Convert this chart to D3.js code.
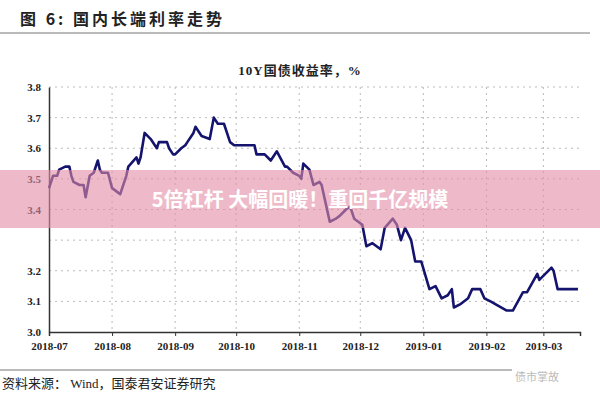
<!DOCTYPE html>
<html><head><meta charset="utf-8">
<script src="https://cdn.jsdelivr.net/npm/d3@7"></script>
<style>body{margin:0;background:#fff}svg{display:block}</style>
</head><body>
<svg id="c" width="600" height="400"></svg>
<script>
const dates = ["2018-07-01","2018-07-03","2018-07-05","2018-07-06","2018-07-09","2018-07-11","2018-07-12","2018-07-13","2018-07-16","2018-07-18","2018-07-19","2018-07-21","2018-07-23","2018-07-25","2018-07-26","2018-07-27","2018-07-30","2018-08-01","2018-08-03","2018-08-05","2018-08-08","2018-08-09","2018-08-13","2018-08-14","2018-08-15","2018-08-17","2018-08-20","2018-08-23","2018-08-24","2018-08-28","2018-08-29","2018-08-31","2018-09-01","2018-09-04","2018-09-06","2018-09-07","2018-09-10","2018-09-11","2018-09-14","2018-09-18","2018-09-20","2018-09-22","2018-09-25","2018-09-28","2018-09-30","2018-10-10","2018-10-11","2018-10-15","2018-10-18","2018-10-21","2018-10-25","2018-10-26","2018-10-29","2018-11-01","2018-11-02","2018-11-03","2018-11-06","2018-11-08","2018-11-11","2018-11-12","2018-11-16","2018-11-19","2018-11-21","2018-11-24","2018-11-26","2018-11-28","2018-12-02","2018-12-04","2018-12-07","2018-12-11","2018-12-13","2018-12-17","2018-12-19","2018-12-21","2018-12-23","2018-12-26","2018-12-28","2018-12-31","2019-01-04","2019-01-07","2019-01-10","2019-01-13","2019-01-15","2019-01-16","2019-01-19","2019-01-23","2019-01-25","2019-01-29","2019-01-31","2019-02-03","2019-02-11","2019-02-14","2019-02-19","2019-02-21","2019-02-26","2019-02-27","2019-03-05","2019-03-06","2019-03-08","2019-03-11","2019-03-14","2019-03-18"];
const yields = [3.47,3.51,3.51,3.53,3.54,3.54,3.51,3.49,3.48,3.48,3.44,3.51,3.52,3.56,3.53,3.52,3.52,3.47,3.46,3.45,3.51,3.54,3.57,3.55,3.57,3.65,3.63,3.60,3.62,3.62,3.60,3.58,3.58,3.60,3.61,3.62,3.65,3.67,3.64,3.63,3.70,3.68,3.68,3.62,3.61,3.61,3.58,3.58,3.56,3.59,3.54,3.54,3.52,3.51,3.50,3.55,3.53,3.48,3.49,3.48,3.36,3.37,3.38,3.40,3.41,3.37,3.35,3.28,3.29,3.27,3.34,3.37,3.35,3.30,3.34,3.30,3.23,3.23,3.14,3.15,3.11,3.12,3.14,3.08,3.09,3.11,3.14,3.14,3.11,3.10,3.07,3.07,3.13,3.13,3.19,3.17,3.21,3.20,3.14,3.14,3.14,3.14];
const monthTicks = ["2018-07","2018-08","2018-09","2018-10","2018-11","2018-12","2019-01","2019-02","2019-03"];
const yTicks = [3.0,3.1,3.2,3.3,3.4,3.5,3.6,3.7,3.8];
const yLabels = ["3.0","3.1","3.2","","3.4","3.5","3.6","3.7","3.8"];
const title = "图 6:  国内长端利率走势";
const subtitle = "10Y国债收益率，%";
const source = "资料来源：  Wind，国泰君安证券研究";
const banner = "5倍杠杆 大幅回暖！重回千亿规模";

const svg = d3.select("#c");
const parse = d3.timeParse("%Y-%m-%d"), pm = d3.timeParse("%Y-%m");
const x = d3.scaleTime().domain([parse("2018-07-01"), parse("2019-03-19")]).range([49,580]);
const y = d3.scaleLinear().domain([3.0,3.8]).range([332,87]);
const serif = "'Liberation Serif','Noto Sans CJK SC',serif";

svg.append("text").attr("x",20).attr("y",25).attr("font-family","'Noto Sans CJK SC'").attr("font-weight","bold").attr("font-size",16).attr("letter-spacing","3px").attr("fill","#222").text(title);
svg.append("line").attr("x1",0).attr("x2",590).attr("y1",33).attr("y2",33).attr("stroke","#777").attr("stroke-width",1);
svg.append("text").attr("x",300).attr("y",75).attr("text-anchor","middle").attr("font-family",serif).attr("font-weight","bold").attr("font-size",13).attr("letter-spacing","1px").attr("fill","#222").text(subtitle);

svg.append("g").selectAll("line").data(yTicks.slice(1)).join("line")
  .attr("x1",49).attr("x2",580).attr("y1",d=>y(d)).attr("y2",d=>y(d))
  .attr("stroke","#bbb").attr("stroke-dasharray","2,4");
svg.append("g").selectAll("line").data(monthTicks.slice(1)).join("line")
  .attr("x1",d=>x(pm(d))).attr("x2",d=>x(pm(d))).attr("y1",87).attr("y2",332)
  .attr("stroke","#bbb").attr("stroke-dasharray","2,4");

const yAx = svg.append("g").attr("transform","translate(49,0)")
  .call(d3.axisLeft(y).tickValues(yTicks).tickFormat((d,i)=>yLabels[i]).tickSize(0).tickPadding(8));
const xAx = svg.append("g").attr("transform","translate(0,332)")
  .call(d3.axisBottom(x).tickValues(monthTicks.map(pm)).tickFormat(d3.timeFormat("%Y-%m")).tickSize(4).tickPadding(6));
[yAx,xAx].forEach(a=>{a.selectAll("text").attr("font-family",serif).attr("font-weight","bold").attr("font-size",11).attr("fill","#222");
  a.select(".domain").attr("stroke","#333").attr("stroke-width",1.5); a.selectAll(".tick line").attr("stroke","#333");});

const data = dates.map((d,i)=>({d:parse(d),v:yields[i]}));
svg.append("path").datum(data).attr("fill","none").attr("stroke","#14146e").attr("stroke-width",2.6)
  .attr("stroke-linejoin","round").attr("d",d3.line().x(d=>x(d.d)).y(d=>y(d.v)));

svg.append("line").attr("x1",0).attr("x2",512).attr("y1",370).attr("y2",370).attr("stroke","#777");
svg.append("text").attr("x",2).attr("y",388).attr("font-family",serif).attr("font-size",13).attr("fill","#222").text(source);
svg.append("text").attr("x",515).attr("y",381).attr("font-family","'Noto Sans CJK SC'").attr("font-size",11).attr("fill","#bbb").text("债市掌故");

svg.append("rect").attr("x",0).attr("y",170).attr("width",600).attr("height",58).attr("fill","rgba(226,140,165,0.6)");
svg.append("text").attr("x",300).attr("y",207).attr("text-anchor","middle").attr("font-family","'Noto Sans CJK SC'").attr("font-weight","bold").attr("font-size",20).attr("fill","#fff").text(banner);
</script>
</body></html>
